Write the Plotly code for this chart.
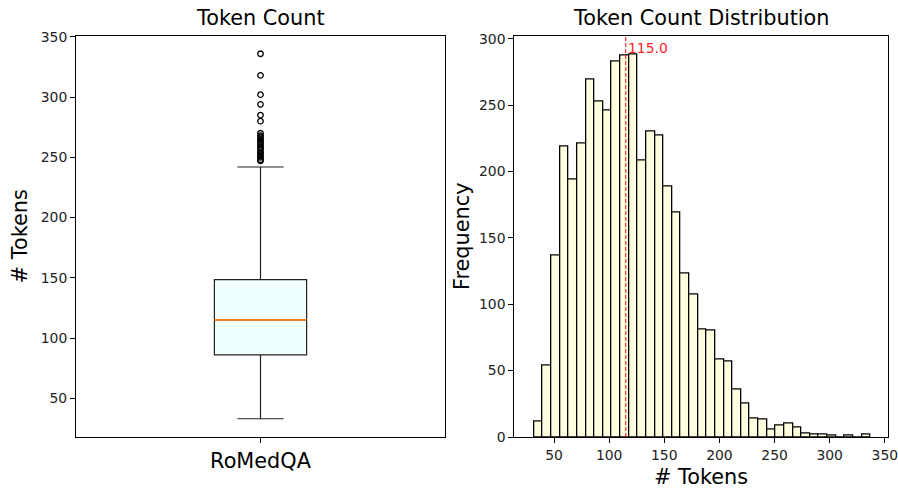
import numpy as np
import plotly.graph_objects as go

# ---------------- data ----------------
box_label = "RoMedQA"
box_q1 = 86
box_median = 115.0
box_q3 = 148.5
box_lower_whisker = 33
box_upper_whisker = 242
outliers = [247, 248, 250, 251, 253, 254, 256, 258, 259, 261, 262, 264, 265,
            267, 268, 270, 280, 285, 294, 302, 318, 336]

hist_min = 32
hist_max = 337
hist_counts = [12, 54, 137, 219, 194, 221, 269, 253, 246, 283, 287, 288, 208,
               230, 227, 189, 169, 123, 107, 81, 80, 58, 57, 36, 25, 14, 13,
               6, 9, 10, 7, 3, 2, 2, 1, 0, 1, 0, 2]

# ---------------- geometry helpers ----------------
W, H = 898, 490
def px_x(a, b):
    return [a / W, b / W]
def px_y(top, bottom):
    return [(H - bottom) / H, (H - top) / H]

n_bins = len(hist_counts)
edges = np.linspace(hist_min, hist_max, n_bins + 1)
centers = (edges[:-1] + edges[1:]) / 2
bw = edges[1] - edges[0]

FONT = "DejaVu Sans"
TICK = 13.9
LAB = 20.8
box_w = 0.25

fig = go.Figure()

fig.add_trace(go.Box(
    x=[1], q1=[box_q1], median=[box_median], q3=[box_q3],
    lowerfence=[box_lower_whisker], upperfence=[box_upper_whisker],
    boxpoints=False, width=box_w, whiskerwidth=0.5,
    fillcolor="#F0FFFF", line=dict(color="#222222", width=1.2),
    xaxis="x", yaxis="y", showlegend=False, hoverinfo="skip"))

fig.add_trace(go.Scatter(
    x=[1 - box_w / 2, 1 + box_w / 2], y=[box_median, box_median],
    mode="lines", line=dict(color="#ff7f0e", width=1.8),
    xaxis="x", yaxis="y", showlegend=False, hoverinfo="skip"))

fig.add_trace(go.Scatter(
    x=[1] * len(outliers), y=outliers, mode="markers",
    marker=dict(symbol="circle-open", size=5.5, color="black",
                line=dict(width=1.3, color="black")),
    xaxis="x", yaxis="y", showlegend=False, hoverinfo="skip"))

fig.add_trace(go.Bar(
    x=centers, y=hist_counts, width=bw,
    marker=dict(color="#FFFFE0", line=dict(color="black", width=1.3)),
    xaxis="x2", yaxis="y2", showlegend=False, hoverinfo="skip"))

ymax2 = max(hist_counts) * 1.05
fig.add_trace(go.Scatter(
    x=[box_median, box_median], y=[0, ymax2], mode="lines",
    line=dict(color="rgba(255,0,0,0.75)", width=1.3, dash="4px,2px"),
    xaxis="x2", yaxis="y2", showlegend=False, hoverinfo="skip"))

ydom = px_y(35.5, 437)
axis_common = dict(showline=True, linecolor="black", linewidth=1, mirror=True,
                   ticks="outside", ticklen=5, tickwidth=1, tickcolor="black",
                   showgrid=False, zeroline=False, automargin=False,
                   ticklabeloverflow="allow",
                   tickfont=dict(family=FONT, size=TICK, color="#222222"))

yr = [box_lower_whisker, max(outliers)]
pad = (yr[1] - yr[0]) * 0.05

fig.update_layout(
    width=W, height=H, margin=dict(l=0, r=0, t=0, b=0, autoexpand=False),
    paper_bgcolor="white", plot_bgcolor="white",
    font=dict(family=FONT, color="black"),
    bargap=0,
    xaxis=dict(axis_common, domain=px_x(76, 445), range=[0.5, 1.5],
               tickvals=[1], ticktext=[box_label],
               tickfont=dict(family=FONT, size=LAB, color="black"),
               anchor="y"),
    yaxis=dict(axis_common, domain=ydom, range=[yr[0] - pad, yr[1] + pad],
               tickvals=[50, 100, 150, 200, 250, 300, 350],
               title=dict(text="# Tokens", font=dict(family=FONT, size=LAB),
                          standoff=7),
               anchor="x"),
    xaxis2=dict(axis_common, domain=px_x(514.3, 887.7), range=[14, 352.6],
                tickvals=[50, 100, 150, 200, 250, 300, 350],
                title=dict(text="# Tokens", font=dict(family=FONT, size=LAB),
                           standoff=7),
                anchor="y2"),
    yaxis2=dict(axis_common, domain=ydom, range=[0, ymax2],
                tickvals=[0, 50, 100, 150, 200, 250, 300],
                title=dict(text="Frequency", font=dict(family=FONT, size=LAB),
                           standoff=3),
                anchor="x2"),
)

fig.add_annotation(text="Token Count", x=(76 + 445) / 2 / W, y=(H - 18) / H,
                   xref="paper", yref="paper", showarrow=False,
                   xanchor="center", yanchor="middle",
                   font=dict(family=FONT, size=LAB, color="black"))
fig.add_annotation(text="Token Count Distribution", x=(514.3 + 887.7) / 2 / W,
                   y=(H - 18) / H, xref="paper", yref="paper", showarrow=False,
                   xanchor="center", yanchor="middle",
                   font=dict(family=FONT, size=LAB, color="black"))
fig.add_annotation(text=f"{box_median:.1f}", x=box_median, y=max(hist_counts),
                   xref="x2", yref="y2", showarrow=False, xanchor="left",
                   yanchor="bottom", xshift=0, yshift=-3,
                   font=dict(family=FONT, size=TICK, color="rgba(255,0,0,0.9)"))

fig.write_html("out.html", config={"displayModeBar": False},
               post_script="document.body.style.margin='0';"
                           "document.body.style.padding='0';")
